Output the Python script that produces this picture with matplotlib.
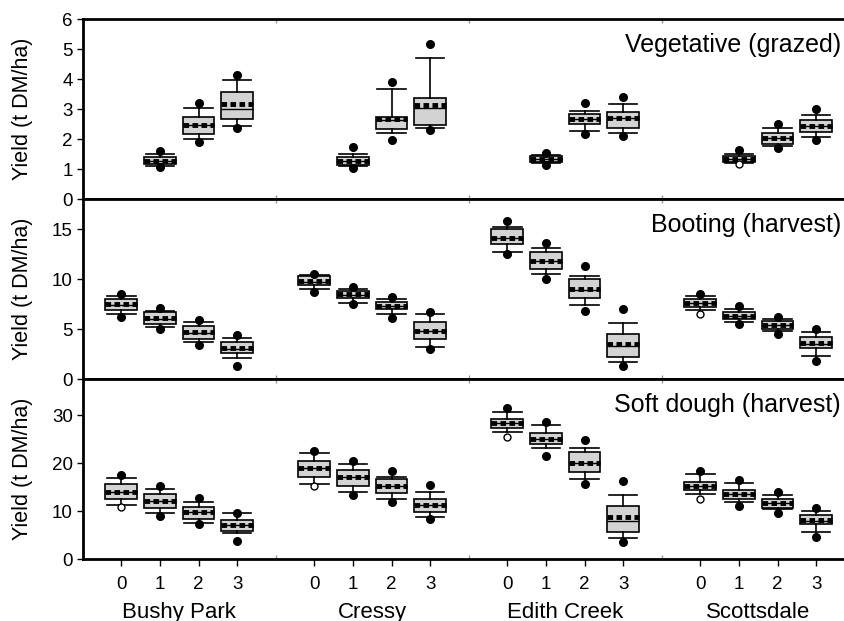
import numpy as np
import matplotlib
matplotlib.use('Agg')
import matplotlib.pyplot as plt

plt.rcParams['font.family'] = ['Liberation Sans', 'DejaVu Sans']

nan = np.nan

sites = ['Bushy Park', 'Cressy', 'Edith Creek', 'Scottsdale']
levels = ['0', '1', '2', '3']
stages = ['Vegetative (grazed)', 'Booting (harvest)', 'Soft dough (harvest)']

# values are site-major: Bushy Park 0..3, Cressy 0..3, Edith Creek 0..3, Scottsdale 0..3
# Vegetative (grazed)
veg_p95 = [nan, 1.60, 3.21, 4.13, nan, 1.72, 3.89, 5.16, nan, 1.54, 3.19, 3.39, nan, 1.63, 2.50, 3.00]
veg_p90 = [nan, 1.50, 3.04, 3.97, nan, 1.50, 3.66, 4.71, nan, 1.47, 2.94, 3.16, nan, 1.50, 2.36, 2.80]
veg_q3 = [nan, 1.41, 2.74, 3.56, nan, 1.39, 2.74, 3.36, nan, 1.43, 2.82, 2.91, nan, 1.43, 2.19, 2.63]
veg_mean = [nan, 1.28, 2.47, 3.16, nan, 1.27, 2.66, 3.12, nan, 1.33, 2.66, 2.69, nan, 1.32, 2.02, 2.44]
veg_med = [nan, 1.28, 2.47, 2.99, nan, 1.27, 2.64, 3.05, nan, 1.33, 2.66, 2.69, nan, 1.32, 2.02, 2.44]
veg_q1 = [nan, 1.17, 2.16, 2.67, nan, 1.13, 2.33, 2.47, nan, 1.23, 2.49, 2.36, nan, 1.22, 1.83, 2.22]
veg_p10 = [nan, 1.10, 2.00, 2.44, nan, 1.10, 2.19, 2.36, nan, 1.19, 2.28, 2.21, nan, 1.19, 1.78, 2.06]
veg_p5 = [nan, 1.06, 1.89, 2.38, nan, 1.04, 1.97, 2.30, nan, 1.13, 2.17, 2.10, nan, 1.16, 1.71, 1.97]
veg_open = [13]

# Booting (harvest)
boot_p95 = [8.47, 7.07, 5.87, 4.40, 10.53, 9.17, 8.17, 6.73, 15.80, 13.57, 11.30, 6.97, 8.53, 7.30, 6.23, 4.97]
boot_p90 = [8.30, 6.80, 5.73, 4.07, 10.40, 8.97, 7.97, 6.50, 15.23, 13.07, 10.30, 5.57, 8.30, 6.97, 5.97, 4.73]
boot_q3 = [8.00, 6.67, 5.33, 3.67, 10.27, 8.80, 7.73, 5.73, 14.97, 12.73, 9.97, 4.47, 7.97, 6.67, 5.80, 4.23]
boot_mean = [7.47, 6.07, 4.70, 3.10, 9.77, 8.47, 7.30, 4.83, 14.13, 11.83, 9.00, 3.50, 7.60, 6.30, 5.40, 3.57]
boot_med = [7.40, 6.05, 4.65, 3.05, 9.75, 8.45, 7.30, 4.80, 14.10, 11.80, 8.95, 3.30, 7.60, 6.30, 5.40, 3.50]
boot_q1 = [6.87, 5.53, 3.97, 2.57, 9.37, 8.10, 6.97, 3.97, 13.47, 10.97, 8.07, 2.17, 7.23, 6.00, 5.00, 3.07]
boot_p10 = [6.50, 5.23, 3.73, 2.13, 8.97, 7.63, 6.47, 3.20, 12.73, 10.50, 7.40, 1.73, 6.90, 5.73, 4.83, 2.30]
boot_p5 = [6.20, 5.00, 3.40, 1.33, 8.67, 7.47, 6.07, 2.97, 12.47, 10.00, 6.80, 1.30, 6.50, 5.47, 4.47, 1.83]
boot_open = [12]

# Soft dough (harvest)
dough_p95 = [17.60, 15.30, 12.80, 9.65, 22.60, 20.40, 18.30, 15.35, 31.40, 28.60, 24.80, 16.25, 18.40, 16.50, 14.00, 10.55]
dough_p90 = [16.80, 14.50, 11.95, 9.50, 22.00, 19.80, 17.15, 14.00, 30.55, 27.85, 23.05, 13.30, 17.80, 15.90, 13.30, 10.05]
dough_q3 = [15.70, 13.50, 10.80, 8.10, 20.40, 18.50, 16.60, 12.40, 29.20, 26.30, 22.20, 11.00, 16.00, 14.40, 12.50, 9.17]
dough_mean = [14.00, 12.10, 9.72, 7.00, 19.00, 17.10, 15.20, 11.25, 28.30, 25.10, 20.10, 8.68, 15.30, 13.55, 11.60, 8.10]
dough_med = [14.00, 12.00, 9.70, 7.00, 19.00, 17.00, 15.20, 11.20, 28.30, 25.10, 20.00, 8.00, 15.30, 13.50, 11.60, 8.00]
dough_q1 = [12.40, 10.60, 8.26, 5.83, 17.15, 15.30, 13.70, 9.72, 27.20, 24.00, 18.20, 5.55, 14.40, 12.60, 10.70, 7.30]
dough_p10 = [11.25, 9.65, 7.57, 5.35, 15.55, 14.00, 12.60, 8.82, 26.50, 23.05, 16.70, 4.30, 13.55, 11.95, 10.35, 5.55]
dough_p5 = [10.80, 8.96, 7.30, 3.75, 15.20, 13.30, 11.95, 8.33, 25.35, 21.50, 15.55, 3.60, 12.60, 11.05, 9.50, 4.65]
dough_open = [0, 4, 8, 12]

panels = [
    (veg_p5, veg_p10, veg_q1, veg_med, veg_mean, veg_q3, veg_p90, veg_p95, veg_open),
    (boot_p5, boot_p10, boot_q1, boot_med, boot_mean, boot_q3, boot_p90, boot_p95, boot_open),
    (dough_p5, dough_p10, dough_q1, dough_med, dough_mean, dough_q3, dough_p90, dough_p95, dough_open),
]
ylims = [6, 18, 37.5]
yticks = [[0, 1, 2, 3, 4, 5, 6], [0, 5, 10, 15], [0, 10, 20, 30]]

# x position: 5 per site, 1 per level
positions = [5 * s + l for s in range(len(sites)) for l in range(len(levels))]

fig = plt.figure(figsize=(8.44, 6.21), dpi=100)
W, H = 844.0, 621.0
left = 82.7 / W
width = 772.0 / W
tops = [19, 199, 379]
ph = 180.0

axes = []
for i in range(3):
    ax = fig.add_axes([left, (H - tops[i] - ph) / H, width, ph / H])
    axes.append(ax)

for i, ax in enumerate(axes):
    p5, p10, q1, med, mean, q3, p90, p95, opn = panels[i]
    stats = []
    pos = []
    for k in range(16):
        if np.isnan(mean[k]):
            continue
        fl = [p95[k]] if k in opn else [p5[k], p95[k]]
        stats.append(dict(med=med[k], q1=q1[k], q3=q3[k], whislo=p10[k], whishi=p90[k],
                          mean=mean[k], fliers=fl))
        pos.append(positions[k])
    ax.bxp(stats, positions=pos, widths=0.82, capwidths=0.74, patch_artist=True,
           showmeans=True, meanline=True, showfliers=True, manage_ticks=False,
           boxprops=dict(facecolor='#d3d3d3', edgecolor='black', linewidth=1.2),
           whiskerprops=dict(color='black', linewidth=1.2),
           capprops=dict(color='black', linewidth=1.2),
           medianprops=dict(color='black', linewidth=1.0),
           meanprops=dict(color='black', linestyle=(0, (1.15, 0.7)), linewidth=3.5),
           flierprops=dict(marker='o', markerfacecolor='black', markeredgecolor='black',
                           markersize=5.5, zorder=5))
    ox = [positions[k] for k in opn]
    oy = [p5[k] for k in opn]
    ax.plot(ox, oy, linestyle='none', marker='o', markersize=5, markerfacecolor='white',
            markeredgecolor='black', markeredgewidth=1.0, zorder=5)

    ax.set_xlim(-1, 19)
    ax.set_ylim(0, ylims[i])
    ax.set_yticks(yticks[i])
    ax.tick_params(axis='y', direction='out', length=4, width=1, labelsize=13.5, pad=3)
    for sp in ax.spines.values():
        sp.set_linewidth(2)
    ax.set_ylabel('Yield (t DM/ha)', fontsize=15.5)
    ax.yaxis.set_label_coords(-0.064, 0.5)
    ax.text(0.982, 0.856, stages[i], transform=ax.transAxes, ha='right', va='center',
            fontsize=18)
    ax.set_xticks([4, 9, 14], minor=True)
    ax.tick_params(axis='x', which='minor', direction='in', length=3, width=1,
                   color='0.6', top=True, bottom=True)
    if i < 2:
        ax.set_xticks([])
    else:
        ax.set_xticks(positions)
        ax.set_xticklabels(levels * len(sites))
        ax.tick_params(axis='x', which='major', direction='out', length=5, width=1,
                       labelsize=13.5, pad=7)
        for s, name in enumerate(sites):
            ax.text(5 * s + 1.5, -0.295, name, transform=ax.get_xaxis_transform(),
                    ha='center', va='center', fontsize=16)

fig.savefig('out.png', dpi=100)
